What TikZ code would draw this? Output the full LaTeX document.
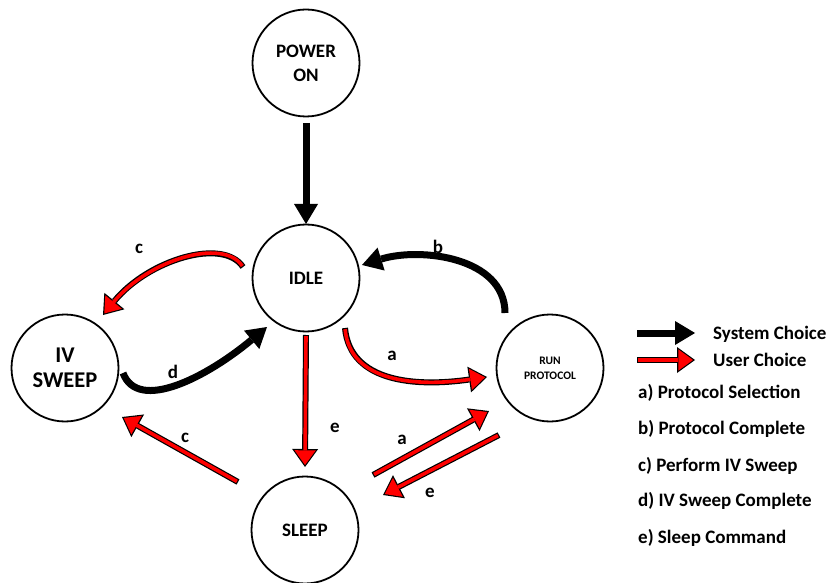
\documentclass[tikz,border=0pt]{standalone}
\usepackage{fontspec}
\setmainfont{Carlito}
\usetikzlibrary{arrows.meta,calc}
\begin{document}
\begin{tikzpicture}[x=1pt,y=1pt,
  state/.style={circle, draw, line width=1.8pt, minimum size=107pt, inner sep=0pt,
    align=center, font=\bfseries\fontsize{19}{24}\selectfont},
  bigstate/.style={state, font=\bfseries\fontsize{22.5}{25}\selectfont},
  smallstate/.style={state, font=\bfseries\fontsize{11.5}{15}\selectfont},
  sysarrow/.style={draw=black, line width=7pt,
    -{Triangle[length=20pt,width=24pt,line width=0pt]}},
  userarrow/.style={
    preaction={draw=black, line width=6pt, shorten >=0pt, shorten <=0pt,
      -{Triangle[length=18pt,width=26pt,line width=0pt]}},
    draw=red, line width=3.6pt, shorten >=2pt, shorten <=1.2pt,
    -{Triangle[length=14.7pt,width=21.3pt,line width=0pt]}},
  tag/.style={font=\bfseries\fontsize{19}{22}\selectfont, inner sep=0pt},
  legendtext/.style={anchor=base west, font=\bfseries\fontsize{19}{22}\selectfont, inner sep=0pt}
]
\useasboundingbox (0,0) rectangle (830,582);

% states
\node[state] (power) at (306,519) {POWER\\ON};
\node[state] (idle) at (306,304) {IDLE};
\node[bigstate] (iv) at (65,214) {IV\\SWEEP};
\node[smallstate] (run) at (550,214) {RUN\\PROTOCOL};
\node[state] (sleep) at (305,52) {SLEEP};

% system transitions
\draw[sysarrow] ($(power)+(0,-60)$) -- ($(idle)+(0,54)$);
\draw[sysarrow] ($(run)+(-45,55)$) .. controls +(0,56) and +(58,18) .. ($(idle)+(56,13)$);
\draw[sysarrow] ($(iv)+(58,-5)$) .. controls +(15,-40) and +(-60,-50) .. ($(idle)+(-39,-49)$);

% user transitions
\draw[userarrow] ($(idle)+(-63,11)$) .. controls +(-20,30) and +(45,55) .. ($(iv)+(38,53)$);
\draw[userarrow] ($(idle)+(39,-50)$) .. controls +(5,-55) and +(-70,-10) .. ($(run)+(-63,-9)$);
\draw[userarrow] ($(idle)+(0,-57)$) -- ($(sleep)+(0,63)$);
\draw[userarrow] ($(sleep)+(-67,48)$) -- ($(iv)+(57,-49)$);
\draw[userarrow] ($(sleep)+(68,55)$) -- ($(run)+(-61,-43)$);
\draw[userarrow] ($(run)+(-51,-67)$) -- ($(sleep)+(78,35)$);

% transition tags
\node[tag] (tc1) at (139,333) {c};
\node[tag] (td) at (173,210) {d};
\node[tag] (tb) at (438,335) {b};
\node[tag] (ta1) at (392,226) {a};
\node[tag] (te1) at (335,154) {e};
\node[tag] (tc2) at (185,144) {c};
\node[tag] (ta2) at (402,142) {a};
\node[tag] (te2) at (430,89) {e};

% legend
\coordinate (sysL) at (637,249);
\coordinate (sysR) at (695,249);
\draw[sysarrow] (sysL) -- (sysR);
\node[legendtext] (sysT) at (713,243) {System Choice};
\coordinate (usrL) at (637,222);
\coordinate (usrR) at (695,222);
\draw[userarrow] (usrL) -- (usrR);
\node[legendtext] (usrT) at (713,216) {User Choice};
\node[legendtext] (la) at (638,184) {a) Protocol Selection};
\node[legendtext] (lb) at (638,148) {b) Protocol Complete};
\node[legendtext] (lc) at (638,111) {c) Perform IV Sweep};
\node[legendtext] (ld) at (638,76) {d) IV Sweep Complete};
\node[legendtext] (le) at (638,39) {e) Sleep Command};
\end{tikzpicture}
\end{document}
